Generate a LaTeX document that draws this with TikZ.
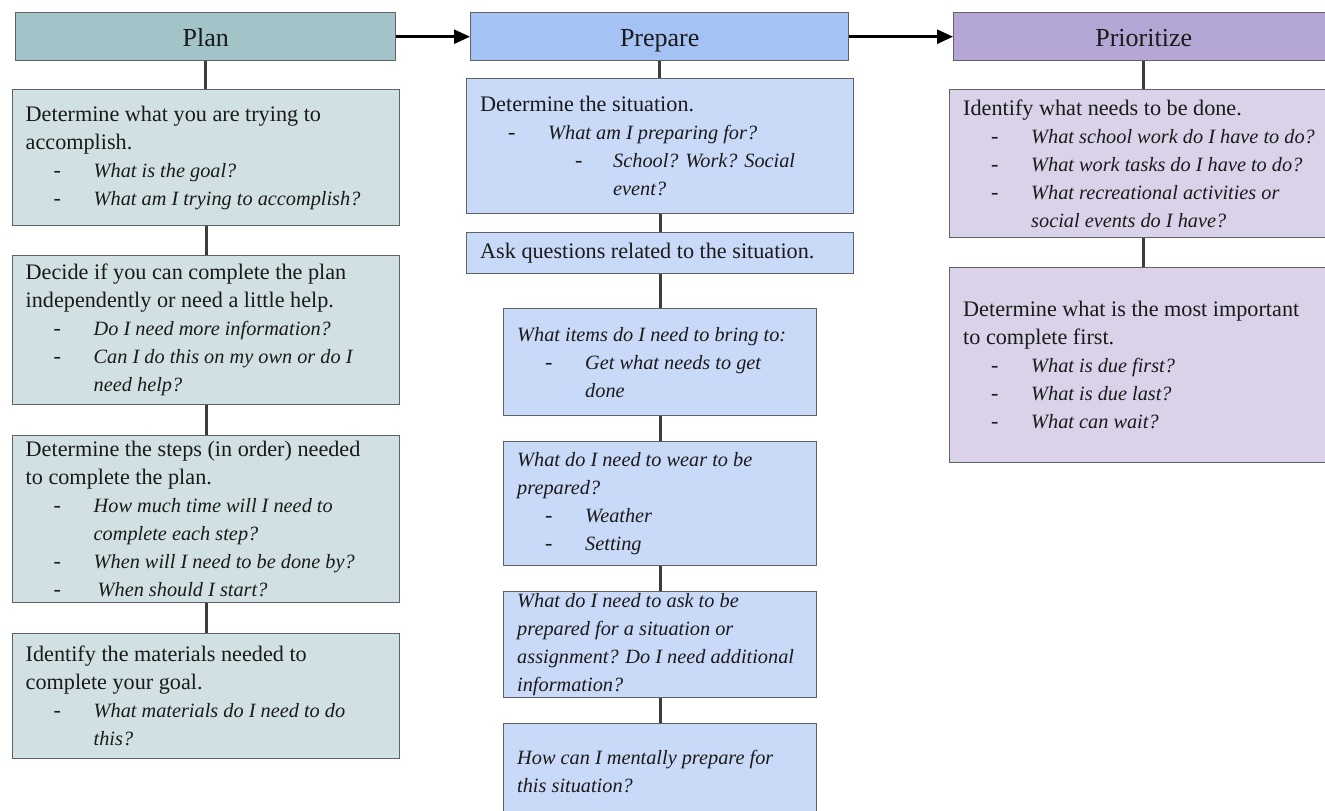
\documentclass[tikz,border=0pt]{standalone}
\usepackage{fontspec}
\setmainfont{Liberation Serif}
\usetikzlibrary{arrows.meta}
\definecolor{planH}{HTML}{A2C4C9}
\definecolor{planB}{HTML}{D0E0E3}
\definecolor{prepH}{HTML}{A4C2F4}
\definecolor{prepB}{HTML}{C9DAF8}
\definecolor{prioH}{HTML}{B4A7D6}
\definecolor{prioB}{HTML}{D9D2E9}
\definecolor{bordc}{HTML}{5F6266}
\definecolor{linkc}{HTML}{3C3C3C}
\definecolor{txtc}{HTML}{1A1A1A}
\newcommand\itfnt{\fontsize{20.3}{28}\selectfont\itshape}
\newcommand\bl[1]{\hspace*{28pt}\makebox[40pt][l]{-}{\itfnt #1}}
\newcommand\cl[1]{\hspace*{68pt}{\itfnt #1}}
\newcommand\sbl[1]{\hspace*{95pt}\makebox[38pt][l]{-}{\itfnt #1}}
\newcommand\scl[1]{\hspace*{133pt}{\itfnt #1}}
\tikzset{
  box/.style={draw=bordc, line width=1.4pt, anchor=north west, inner sep=0pt},
  head/.style={box, font=\fontsize{26}{30}\selectfont, text=txtc, text height=20pt, text depth=1pt},
  txt/.style={anchor=west, align=left, inner sep=0pt, font=\fontsize{22.2}{28}\selectfont, text=txtc},
  link/.style={draw=linkc, line width=3pt},
  flow/.style={draw=black, line width=2.5pt, -{Triangle[length=16pt,width=14pt]}},
}
\begin{document}
\begin{tikzpicture}[x=1pt,y=-1pt]
\useasboundingbox (0,0) rectangle (1325,811);
\clip (0,0) rectangle (1325,811);
\fill[white] (0,0) rectangle (1325,811);
% ---------- Plan column
\node[head, fill=planH, minimum width=380pt, minimum height=48pt] (plan) at (15,12) {Plan};
\node[box, fill=planB, minimum width=387pt, minimum height=136pt] (plan1) at (12,89) {};
\node[box, fill=planB, minimum width=387pt, minimum height=149pt] (plan2) at (12,255) {};
\node[box, fill=planB, minimum width=387pt, minimum height=167pt] (plan3) at (12,435) {};
\node[box, fill=planB, minimum width=387pt, minimum height=125pt] (plan4) at (12,633) {};
\node[txt] (plan1t) at ([xshift=13.5pt]plan1.west) {Determine what you are trying to\\accomplish.\\\bl{What is the goal?}\\\bl{What am I trying to accomplish?}};
\node[txt] (plan2t) at ([xshift=13.5pt]plan2.west) {Decide if you can complete the plan\\independently or need a little help.\\\bl{Do I need more information?}\\\bl{Can I do this on my own or do I}\\\cl{need help?}};
\node[txt] (plan3t) at ([xshift=13.5pt]plan3.west) {Determine the steps (in order) needed\\to complete the plan.\\\bl{How much time will I need to}\\\cl{complete each step?}\\\bl{When will I need to be done by?}\\\bl{\hspace*{4pt}When should I start?}};
\node[txt] (plan4t) at ([xshift=13.5pt]plan4.west) {Identify the materials needed to\\complete your goal.\\\bl{What materials do I need to do}\\\cl{this?}};
% ---------- Prepare column
\node[head, fill=prepH, minimum width=378pt, minimum height=48pt] (prep) at (470,12) {Prepare};
\node[box, fill=prepB, minimum width=387pt, minimum height=135pt] (prep1) at (466,78) {};
\node[box, fill=prepB, minimum width=387pt, minimum height=41pt] (prep2) at (466,232) {};
\node[box, fill=prepB, minimum width=313pt, minimum height=107pt] (prep3) at (503,308) {};
\node[box, fill=prepB, minimum width=313pt, minimum height=124pt] (prep4) at (503,441) {};
\node[box, fill=prepB, minimum width=313pt, minimum height=106pt] (prep5) at (503,591) {};
\node[box, fill=prepB, minimum width=313pt, minimum height=96pt] (prep6) at (503,723) {};
\node[txt] (prep1t) at ([xshift=14pt]prep1.west) {Determine the situation.\\\bl{What am I preparing for?}\\\sbl{School? Work? Social}\\\scl{event?}};
\node[txt] (prep2t) at ([xshift=14pt]prep2.west) {Ask questions related to the situation.};
\node[txt] (prep3t) at ([xshift=14pt]prep3.west) {{\itfnt What items do I need to bring to:}\\\bl{Get what needs to get}\\\cl{done}};
\node[txt] (prep4t) at ([xshift=14pt]prep4.west) {{\itfnt What do I need to wear to be}\\{\itfnt prepared?}\\\bl{Weather}\\\bl{Setting}};
\node[txt] (prep5t) at ([xshift=14pt]prep5.west) {{\itfnt What do I need to ask to be}\\{\itfnt prepared for a situation or}\\{\itfnt assignment? Do I need additional}\\{\itfnt information?}};
\node[txt] (prep6t) at ([xshift=14pt]prep6.west) {{\itfnt How can I mentally prepare for}\\{\itfnt this situation?}};
% ---------- Prioritize column
\node[head, fill=prioH, minimum width=380pt, minimum height=48pt] (prio) at (953,12) {Prioritize};
\node[box, fill=prioB, minimum width=388pt, minimum height=148pt] (prio1) at (949,89) {};
\node[box, fill=prioB, minimum width=388pt, minimum height=195pt] (prio2) at (949,267) {};
\node[txt] (prio1t) at ([xshift=14pt]prio1.west) {Identify what needs to be done.\\\bl{What school work do I have to do?}\\\bl{What work tasks do I have to do?}\\\bl{What recreational activities or}\\\cl{social events do I have?}};
\node[txt] (prio2t) at ([xshift=14pt]prio2.west) {Determine what is the most important\\to complete first.\\\bl{What is due first?}\\\bl{What is due last?}\\\bl{What can wait?}};
% ---------- connectors
\draw[link] (plan.south) -- (plan.south |- plan1.north);
\draw[link] (plan1.south) -- (plan1.south |- plan2.north);
\draw[link] (plan2.south) -- (plan2.south |- plan3.north);
\draw[link] (plan3.south) -- (plan3.south |- plan4.north);
\draw[link] (prep.south) -- (prep.south |- prep1.north);
\draw[link] (prep1.south) -- (prep1.south |- prep2.north);
\draw[link] (prep2.south) -- (prep2.south |- prep3.north);
\draw[link] (prep3.south) -- (prep3.south |- prep4.north);
\draw[link] (prep4.south) -- (prep4.south |- prep5.north);
\draw[link] (prep5.south) -- (prep5.south |- prep6.north);
\draw[link] (prio.south) -- (prio.south |- prio1.north);
\draw[link] (prio1.south) -- (prio1.south |- prio2.north);
\draw[flow] (plan.east) -- (prep.west);
\draw[flow] (prep.east) -- (prio.west);
\end{tikzpicture}
\end{document}
